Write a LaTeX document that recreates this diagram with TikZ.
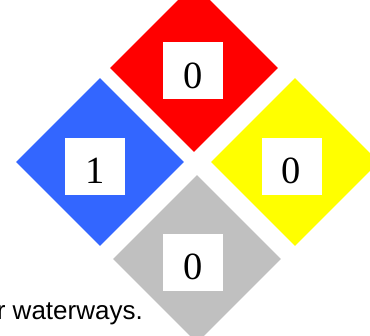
\documentclass[tikz,border=0pt]{standalone}
\usepackage{fontspec}
\setmainfont{Liberation Serif}
\newfontfamily\notefont{Liberation Sans}
\usetikzlibrary{shapes.geometric}

\definecolor{healthblue}{HTML}{3366FF}
\definecolor{firered}{HTML}{FF0000}
\definecolor{reactyellow}{HTML}{FFFF00}
\definecolor{specialgray}{HTML}{C0C0C0}

\begin{document}
\begin{tikzpicture}[
    x=1pt, y=-1pt,
    hazard/.style={diamond, aspect=1, inner sep=0pt, minimum width=168pt, minimum height=168pt, draw=none},
    numbox/.style={rectangle, fill=white, inner sep=0pt, minimum width=60pt, minimum height=57pt, text height=35pt, text depth=0pt, font=\fontsize{38.5}{38.5}\selectfont},
    note/.style={inner sep=0pt, font=\notefont\fontsize{26}{30}\selectfont}
]
    \useasboundingbox (0,0) rectangle (370,336);

    \node [hazard, fill=firered] (fire) at (194,68) {};
    \node [hazard, fill=healthblue] (health) at (100,162) {};
    \node [hazard, fill=reactyellow] (react) at (295,162) {};
    \node [hazard, fill=specialgray] (special) at (197,259) {};

    \node [numbox] (fireval) at (192.7,70.7) {0};
    \node [numbox] (healthval) at (95,166.5) {1};
    \node [numbox] (reactval) at (291.5,166.5) {0};
    \node [numbox] (specialval) at (192.7,262.5) {0};

    \node [note, anchor=base east] (waterway) at (143,320) {r waterways.};
\end{tikzpicture}
\end{document}
